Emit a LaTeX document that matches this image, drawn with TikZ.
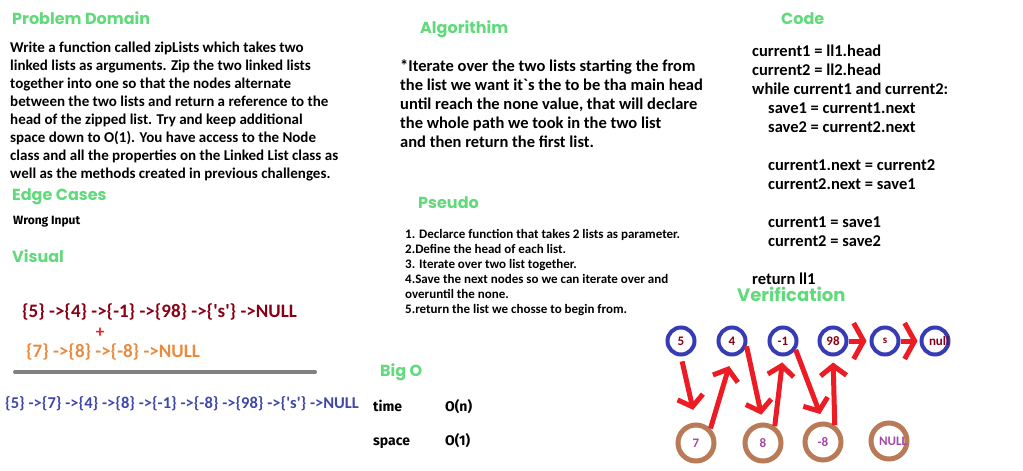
\documentclass[tikz,border=0pt]{standalone}
\usepackage{fontspec}
\setmainfont{Carlito}
\newfontfamily\headfont{Poppins}
\newfontfamily\handfont{Fira Sans}
\usetikzlibrary{arrows.meta}
\definecolor{hgreen}{RGB}{96,218,122}
\definecolor{dred}{RGB}{136,0,21}
\definecolor{lorange}{RGB}{236,138,60}
\definecolor{pred}{RGB}{237,28,36}
\definecolor{lblue}{RGB}{63,72,170}
\definecolor{cblue}{RGB}{55,60,180}
\definecolor{cbrown}{RGB}{185,122,87}
\definecolor{cpurple}{RGB}{163,73,164}
\definecolor{bargray}{RGB}{128,128,128}
\newcommand{\sq}{\textquotesingle}
\begin{document}
\begin{tikzpicture}[x=1pt,y=-1pt,
  heading/.style={anchor=north west, inner sep=0pt, text=hgreen, font=\headfont\bfseries\fontsize{16}{16}\selectfont},
  para/.style={anchor=north west, inner sep=0pt, align=left},
  hand/.style={anchor=base west, inner sep=0pt, font=\handfont\bfseries\fontsize{14}{14}\selectfont},
  listtxt/.style={anchor=base west, inner sep=0pt},
  topc/.style={circle, draw=cblue, line width=4pt, minimum size=27pt, inner sep=0pt, text=dred, font=\bfseries\fontsize{13}{13}\selectfont},
  botc/.style={circle, draw=cbrown, line width=5pt, minimum size=36pt, inner sep=0pt, text=cpurple, font=\bfseries\fontsize{13}{13}\selectfont},
  rarrow/.style={draw=pred, line width=5pt, -{Straight Barb[length=10pt,width=26pt]}},
  harrow/.style={draw=pred, line width=5pt, -{Straight Barb[length=10pt,width=36pt]}}
]
\useasboundingbox[fill=white] (0,0) rectangle (1023,471);

% Problem domain
\node[heading] (hpd) at (12,11) {Problem Domain};
\node[para, font=\bfseries\fontsize{15}{18}\selectfont] (pd) at (10,42) {Write a function called zipLists which takes two\\
linked lists as arguments. Zip the two linked lists\\
together into one so that the nodes alternate\\
between the two lists and return a reference to the\\
head of the zipped list. Try and keep additional\\
space down to O(1). You have access to the Node\\
class and all the properties on the Linked List class as\\
well as the methods created in previous challenges.};

\node[heading] (hec) at (12,188) {Edge Cases};
\node[hand, font=\handfont\bfseries\fontsize{12}{12}\selectfont] (wi) at (13,224) {Wrong Input};

\node[heading] (hvis) at (12,249) {Visual};
\node[listtxt, text=dred, font=\bfseries\fontsize{19}{19}\selectfont] (l1) at (22,317) {\{5\} ->\{4\} ->\{-1\} ->\{98\} ->\{\sq s\sq\} ->NULL};
\node[text=pred, inner sep=0pt, font=\bfseries\fontsize{17}{17}\selectfont] (plus) at (100,333) {+};
\node[listtxt, text=lorange, font=\bfseries\fontsize{19}{19}\selectfont] (l2) at (26,357) {\{7\} ->\{8\} ->\{-8\} ->NULL};
\coordinate (barL) at (15,372);
\coordinate (barR) at (315,372);
\draw[bargray, line width=4pt, line cap=round] (barL) -- (barR);
\node[listtxt, text=lblue, font=\bfseries\fontsize{16.5}{16.5}\selectfont] (l3) at (5,408) {\{5\} ->\{7\} ->\{4\} ->\{8\} ->\{-1\} ->\{-8\} ->\{98\} ->\{\sq s\sq\} ->NULL};

% Algorithm
\node[heading] (halg) at (420,20) {Algorithim};
\node[para, font=\bfseries\fontsize{16.5}{19}\selectfont] (alg) at (400,59) {*Iterate over the two lists starting the from\\
the list we want it\textasciigrave s the to be tha main head\\
until reach the none value, that will declare\\
the whole path we took in the two list\\
and then return the first list.};

% Pseudo
\node[heading] (hps) at (418,196) {Pseudo};
\node[para, font=\bfseries\fontsize{13}{15}\selectfont] (ps) at (405,229) {1. Declarce function that takes 2 lists as parameter.\\
2.Define the head of each list.\\
3. Iterate over two list together.\\
4.Save the next nodes so we can iterate over and\\
overuntil the none.\\
5.return the list we chosse to begin from.};

% Big O
\node[heading] (hbo) at (380,363) {Big O};
\node[hand] (tm) at (373,411) {time};
\node[hand] (tmv) at (445,411) {O(n)};
\node[hand] (sp) at (373,445) {space};
\node[hand] (spv) at (445,445) {O(1)};

% Code
\node[heading] (hcode) at (781,12) {Code};
\node[para, font=\bfseries\fontsize{16.5}{19}\selectfont] (code) at (752,45) {current1 = ll1.head\\
current2 = ll2.head\\
while current1 and current2:\\
\hspace*{16pt}save1 = current1.next\\
\hspace*{16pt}save2 = current2.next\\
\mbox{}\\
\hspace*{16pt}current1.next = current2\\
\hspace*{16pt}current2.next = save1\\
\mbox{}\\
\hspace*{16pt}current1 = save1\\
\hspace*{16pt}current2 = save2\\
\mbox{}\\
return ll1};

% Verification
\node[heading, font=\headfont\bfseries\fontsize{18}{18}\selectfont] (hver) at (737,287) {Verification};
\node[topc] (n5) at (681,341) {5};
\node[topc] (n4) at (732,341) {4};
\node[topc] (nm1) at (783,341) {-1};
\node[topc] (n98) at (833,341) {98};
\node[topc, font=\bfseries\fontsize{11}{11}\selectfont] (ns) at (885,341) {s};
\node[topc] (nnull) at (935,341) {\makebox[12pt][l]{null}};
\node[botc] (n7) at (696,443) {7};
\node[botc] (n8) at (763,443) {8};
\node[botc] (nm8) at (823,442) {-8};
\node[botc] (nNULL) at (889,441) {\makebox[20pt][l]{NULL}};

\draw[rarrow, shorten <=5pt, shorten >=13pt] (n5.south) -- (n7.north);
\draw[rarrow, shorten >=10pt] (n7.45) -- (n4.south);
\draw[rarrow, shorten >=8pt] (n4.-20) -- (n8.north);
\draw[rarrow, shorten >=6pt] (n8.55) -- (nm1.south);
\draw[rarrow, shorten >=8pt] (nm1.-35) -- (nm8.north);
\draw[rarrow, shorten >=6pt] (nm8.55) -- (n98.south);
\draw[harrow, shorten >=3pt] (n98.east) -- (ns.west);
\draw[harrow, shorten >=2pt] (ns.east) -- (nnull.west);
\end{tikzpicture}
\end{document}
